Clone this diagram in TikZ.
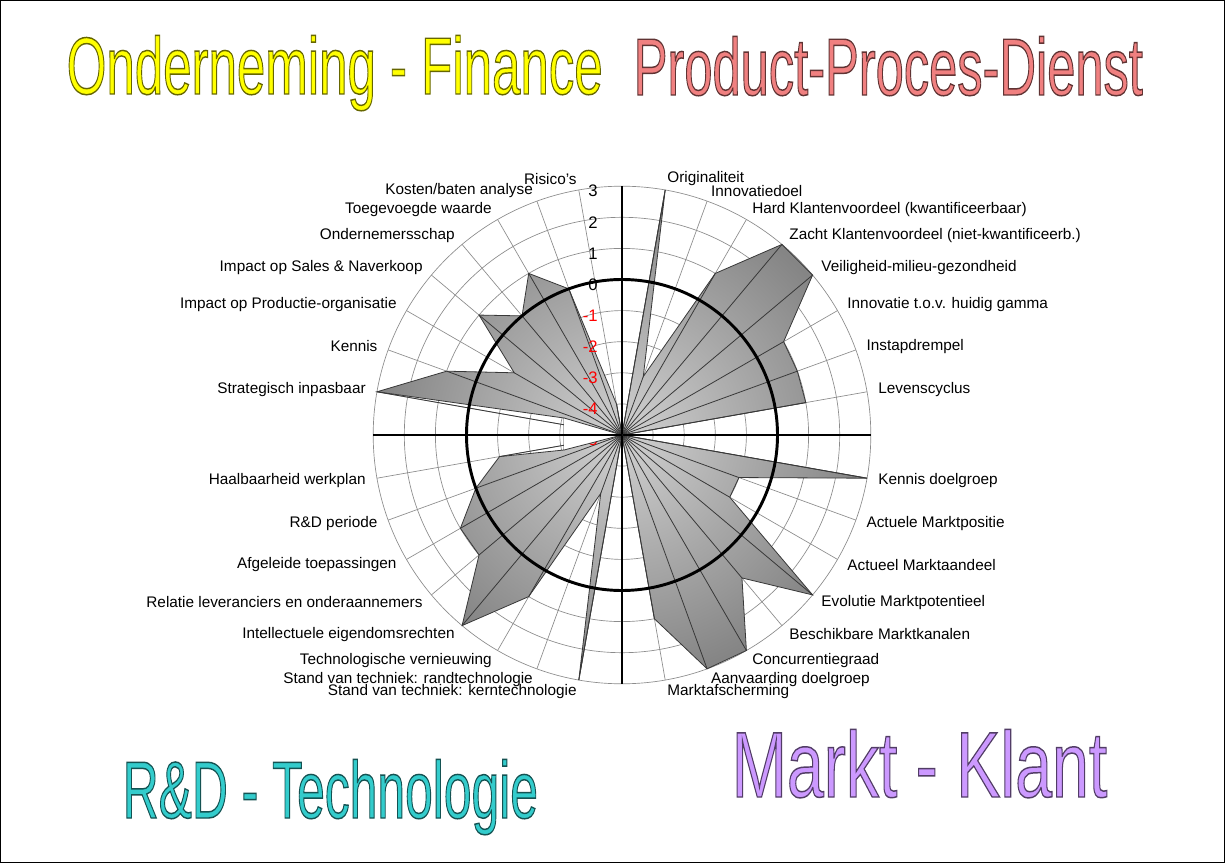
\documentclass[tikz,border=0pt]{standalone}
\usepackage{fontspec}
\setmainfont{Liberation Sans}
\usepackage{graphicx}
\usetikzlibrary{calc}

\definecolor{pin}{gray}{0.82}
\definecolor{pout}{gray}{0.52}
\pgfdeclareradialshading{polyshade}{\pgfpoint{0bp}{0bp}}{color(0bp)=(pin); color(25bp)=(pout); color(50bp)=(pout)}
\definecolor{gridgray}{gray}{0.55}
\definecolor{edgegray}{gray}{0.22}
\definecolor{tyellow}{RGB}{255,255,0}
\definecolor{tpink}{RGB}{240,128,128}
\definecolor{tteal}{RGB}{51,204,204}
\definecolor{tlav}{RGB}{204,153,255}

\makeatletter
\newcommand{\trmode}[1]{\pgfsys@invoke{#1 Tr}}
\makeatother

% name, x, y, colour, size, xscale, text
\newcommand{\titlenode}[7]{%
  \node[titletext,text=#4] (#1) at (#2,#3) {\fontsize{#5}{#5}\selectfont\scalebox{#6}[1]{\pgfsetstrokecolor{#4!40!black}\pgfsetlinewidth{1.1pt}\trmode{2}#7\trmode{0}}};}

\begin{document}
\begin{tikzpicture}[x=0.75pt,y=-0.75pt,
  gridline/.style={draw=gridgray,line width=0.5pt},
  axisline/.style={draw=black,line width=2.2pt},
  edge/.style={draw=edgegray,line width=0.6pt},
  catlabel/.style={font=\fontsize{11.5pt}{13pt}\selectfont,inner sep=0pt},
  ticklabel/.style={font=\fontsize{12.5pt}{14pt}\selectfont,inner sep=0pt,anchor=east},
  titletext/.style={inner sep=0pt,anchor=base west},
]
\useasboundingbox (0,0) rectangle (1225,863);
\fill[white] (0,0) rectangle (1225,863);
\draw[black,line width=1pt] (0.7,0.7) rectangle (1224.3,862.3);

\coordinate (C) at (622,435);
\def\U{31.1}

% grid
\foreach \k in {1,...,8} \draw[gridline] (C) circle[radius={\k*\U*0.75pt}];
\foreach \k in {0,...,35} \draw[gridline] (C) -- ++({8*\U*sin(10*\k)},{-8*\U*cos(10*\k)});

% data vertices
\foreach \k/\v in {0/-5,1/3,2/-3,3/1,4/3,5/3,6/1,7/1,8/1,9/-5,10/3,11/-1,12/-1,13/3,14/1,15/3,16/3,17/1,18/-5,19/3,20/-3,21/1,22/3,23/1,24/1,25/0,26/-1,27/-5,28/3,29/1,30/-1,31/1,32/0,33/1,34/0,35/-4}
  \coordinate (v\k) at ($(C)+({(\v+5)*\U*sin(10*\k)},{-(\v+5)*\U*cos(10*\k)})$);
\coordinate (n1) at (564,450);
\coordinate (n2) at (564,418);

\shadedraw[shading=polyshade,draw=edgegray,line width=0.6pt]
  (v0) -- (v1) -- (v2) -- (v3) -- (v4) -- (v5) -- (v6) -- (v7) -- (v8) -- (v9)
  -- (v10) -- (v11) -- (v12) -- (v13) -- (v14) -- (v15) -- (v16) -- (v17) -- (v18)
  -- (v19) -- (v20) -- (v21) -- (v22) -- (v23) -- (v24) -- (v25) -- (v26)
  -- (n1) -- (n2)
  -- (v28) -- (v29) -- (v30) -- (v31) -- (v32) -- (v33) -- (v34) -- (v35) -- cycle;

\foreach \k in {1,...,8,10,11,...,17,19,20,...,26,28,29,...,35} \draw[edge] (C) -- (v\k);

% axes
\coordinate (atop) at ($(C)+(0,-8*\U)$);
\coordinate (abot) at ($(C)+(0,8*\U)$);
\coordinate (aleft) at ($(C)+(-8*\U,0)$);
\coordinate (aright) at ($(C)+(8*\U,0)$);
\draw[axisline] (C) circle[radius={5*\U*0.75pt}];
\draw[axisline] (atop) -- (abot);
\draw[axisline] (aleft) -- (aright);

% tick labels
\foreach \v in {3,2,1,0} \node[ticklabel] (t\v) at ($(C)+(-24,{-(\v+5)*\U+5})$) {\v};
\foreach \v/\n in {-1/1,-2/2,-3/3,-4/4,-5/5} \node[ticklabel,text=red] (tm\n) at ($(C)+(-24,{-(\v+5)*\U+5})$) {\v};

% white notch
\fill[white] (n2) -- (C) -- (n1) -- cycle;
\draw[edge] (n2) -- (C) -- (n1);
\draw[axisline] (aleft) -- (C);

% category labels
\foreach \k/\t in {1/{Originaliteit},2/{Innovatiedoel},3/{Hard Klantenvoordeel (kwantificeerbaar)},4/{Zacht Klantenvoordeel (niet-kwantificeerb.)},5/{Veiligheid-milieu-gezondheid},6/{Innovatie t.o.v. huidig gamma},7/{Instapdrempel},8/{Levenscyclus},10/{Kennis doelgroep},11/{Actuele Marktpositie},12/{Actueel Marktaandeel},13/{Evolutie Marktpotentieel},14/{Beschikbare Marktkanalen},15/{Concurrentiegraad},16/{Aanvaarding doelgroep},17/{Marktafscherming}}
  \node[catlabel,anchor=west] (c\k) at ($(C)+({260*sin(10*\k)},{-260*cos(10*\k)})$) {\t};
\foreach \k/\t in {19/{Stand van techniek: kerntechnologie},20/{Stand van techniek: randtechnologie},21/{Technologische vernieuwing},22/{Intellectuele eigendomsrechten},23/{Relatie leveranciers en onderaannemers},24/{Afgeleide toepassingen},25/{R\&D periode},26/{Haalbaarheid werkplan},28/{Strategisch inpasbaar},29/{Kennis},30/{Impact op Productie-organisatie},31/{Impact op Sales \& Naverkoop},32/{Ondernemersschap},33/{Toegevoegde waarde},34/{Kosten/baten analyse},35/{Risico's}}
  \node[catlabel,anchor=east] (c\k) at ($(C)+({260*sin(10*\k)},{-260*cos(10*\k)})$) {\t};

% titles
\titlenode{tf}{66}{94}{tyellow}{60.75pt}{0.63}{Onderneming - Finance}
\titlenode{tp}{633}{95}{tpink}{60.75pt}{0.625}{Product-Proces-Dienst}
\titlenode{tr}{122}{818}{tteal}{60.75pt}{0.615}{R\&D - Technologie}
\titlenode{tm}{731}{797}{tlav}{70pt}{0.71}{Markt - Klant}
\end{tikzpicture}
\end{document}
